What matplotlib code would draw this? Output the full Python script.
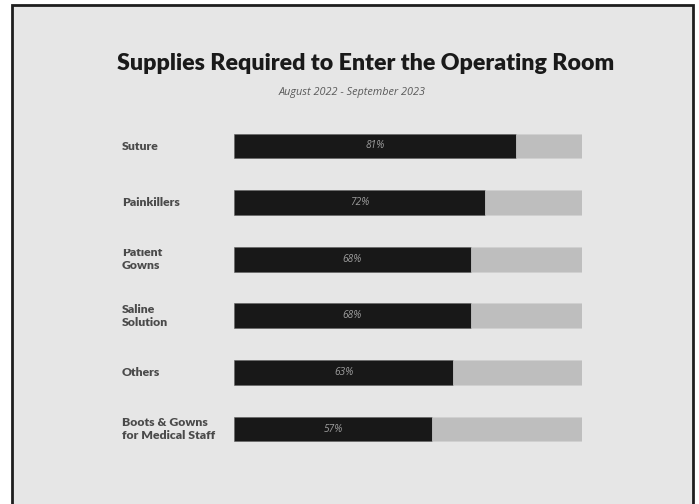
import matplotlib
matplotlib.use("Agg")
import matplotlib.pyplot as plt
from matplotlib.patches import Rectangle
from matplotlib.transforms import Bbox, blended_transform_factory

categories = ["Suture", "Painkillers", "Patient\nGowns", "Saline\nSolution",
              "Others", "Boots & Gowns\nfor Medical Staff"]
values = [81, 72, 68, 68, 63, 57]
title = "Supplies Required to Enter the Operating Room"
subtitle = "August 2022 - September 2023"

W, H = 699, 504
fig = plt.figure(figsize=(W / 100, H / 100), dpi=100)
fig.patch.set_facecolor("white")

# card background with dark frame (open at the bottom edge)
fig.patches.append(Rectangle((12 / W, -0.05), 681 / W, 1 - 5 / H + 0.05,
                             transform=fig.transFigure, facecolor="#e6e6e6",
                             edgecolor="#1e1e1e", linewidth=2.0, zorder=-1))

fig.text(366 / W, 1 - 63 / H, title, ha="center", va="center",
         fontsize=16.7, fontweight="heavy", family="Lato", color="#1a1a1a")
fig.text(352 / W, 1 - 92 / H, subtitle, ha="center", va="center",
         fontsize=7.8, style="italic", family="Open Sans", color="#5a5a5a")

ax = fig.add_axes([234 / W, 1 - 457.3 / H, 348 / W, 339.6 / H])
ax.set_facecolor("none")
ax.set_xlim(0, 100)
ax.set_ylim(len(categories) - 0.5, -0.5)
ax.axis("off")

ypos = list(range(len(categories)))
rest = [100 - v for v in values]
ax.barh(ypos, values, height=0.44, color="#181818", edgecolor="#606060", linewidth=0.4)
ax.barh(ypos, rest, left=values, height=0.44, color="#bebebe", edgecolor="#d0d0d0", linewidth=0.4)

for y, v in zip(ypos, values):
    ax.text(v / 2, y, f"{v}%", ha="center", va="center", fontsize=7.3,
            style="italic", family="Open Sans", color="#9e9e9e")

# category labels at a fixed x position to the left of the bars
trans = blended_transform_factory(fig.transFigure, ax.transData)
for y, name in zip(ypos, categories):
    t = ax.text(122 / W, y, name, transform=trans, ha="left", va="center",
                fontsize=8.8, fontweight="heavy", family="Lato", color="#4a4a4a",
                linespacing=1.25)
    if name.startswith("Patient"):
        # top line is cut off
        t.set_clip_path(None)
        t.set_clip_box(Bbox.from_extents(0, 0, W, H - 249))
        t.set_clip_on(True)

fig.savefig("out.png", dpi=100, facecolor="white")
